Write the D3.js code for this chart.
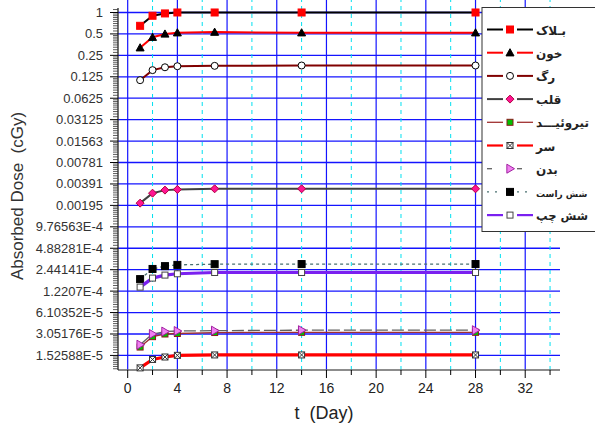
<!DOCTYPE html>
<html><head><meta charset="utf-8">
<script src="https://cdn.jsdelivr.net/npm/d3@7"></script>
<style>body{margin:0;background:#fff} svg{display:block}</style>
</head><body>
<script>
// ---- data ----
const days = [1, 2, 3, 4, 7, 14, 28];
const block     = [0.65, 0.90, 0.97, 1.0, 1.0, 1.0, 1.0];
const khun      = [0.32, 0.45, 0.50, 0.52, 0.53, 0.52, 0.52];
const rag       = [0.112, 0.155, 0.170, 0.176, 0.178, 0.18, 0.18];
const qalb      = [0.0021, 0.0029, 0.0032, 0.00327, 0.00334, 0.00334, 0.00334];
const tiroid    = [2.0e-5, 2.8e-5, 3.05e-5, 3.1e-5, 3.2e-5, 3.22e-5, 3.22e-5];
const sar       = [1.02e-5, 1.34e-5, 1.45e-5, 1.53e-5, 1.55e-5, 1.55e-5, 1.55e-5];
const badan     = [2.16e-5, 3.05e-5, 3.3e-5, 3.36e-5, 3.4e-5, 3.45e-5, 3.45e-5];
const sheshRast = [1.8e-4, 2.5e-4, 2.74e-4, 2.85e-4, 2.92e-4, 2.93e-4, 2.93e-4];
const sheshChap = [1.39e-4, 1.86e-4, 2.05e-4, 2.14e-4, 2.23e-4, 2.23e-4, 2.23e-4];
const seriesNames = ["بـلاک", "خون", "رگ", "قلب", "تیروئیـــد", "سر", "بدن", "شش راست", "شش چپ"];
const seriesValues = [block, khun, rag, qalb, tiroid, sar, badan, sheshRast, sheshChap];
const yTickExponents = d3.range(0, -17, -1);
const yTickLabels = ["1","0.5","0.25","0.125","0.0625","0.03125","0.01563","0.00781","0.00391","0.00195","9.76563E-4","4.88281E-4","2.44141E-4","1.2207E-4","6.10352E-5","3.05176E-5","1.52588E-5"];
const xMajorTicks = [0, 4, 8, 12, 16, 20, 24, 28, 32];
const xMinorTicks = [2, 6, 10, 14, 18, 22, 26, 30, 34];

// ---- styles ----
const styles = [
  {color:"#000000", w:2,   dash:null,  marker:"square",  mfill:"#ff0000", mstroke:"#ff0000", ms:7},
  {color:"#ff0000", w:2,   dash:null,  marker:"triangle",mfill:"#000000", mstroke:"#000000", ms:8},
  {color:"#800000", w:2,   dash:null,  marker:"circle",  mfill:"#ffffff", mstroke:"#000000", ms:7},
  {color:"#404040", w:2,   dash:null,  marker:"diamond", mfill:"#ff1493", mstroke:"#b00040", ms:8},
  {color:"#a03030", w:1.3, dash:null,  marker:"square",  mfill:"#00c000", mstroke:"#8b1a1a", ms:6},
  {color:"#ff0000", w:3.2, dash:null,  marker:"xsquare", mfill:"#ffffff", mstroke:"#333333", ms:6},
  {color:"#606060", w:1.3, dash:"12,4",marker:"rtri",    mfill:"#f080f0", mstroke:"#a020a0", ms:9},
  {color:"#4a7070", w:1.3, dash:"3,3", marker:"square",  mfill:"#000000", mstroke:"#000000", ms:7},
  {color:"#7a20f0", w:3.2, dash:null,  marker:"square",  mfill:"#ffffff", mstroke:"#444444", ms:6}
];

const W = 595, H = 428;
const svg = d3.select("body").append("svg").attr("width", W).attr("height", H);
const x = d3.scaleLinear().domain([-0.78, 34.8]).range([118, 560]);
const y = d3.scaleLog().base(2).domain([Math.pow(2, -16.68), Math.pow(2, 0.2)]).range([370, 8.2]);

// grid
const grid = svg.append("g");
grid.selectAll("line.hmaj").data(yTickExponents).join("line")
  .attr("x1", 118).attr("x2", 560)
  .attr("y1", d => y(Math.pow(2, d))).attr("y2", d => y(Math.pow(2, d)))
  .attr("stroke", "#1414ff").attr("stroke-width", 1.3);
grid.selectAll("line.vmin").data(xMinorTicks).join("line")
  .attr("x1", d => x(d)).attr("x2", d => x(d)).attr("y1", 370).attr("y2", 0)
  .attr("stroke", "#00e0f0").attr("stroke-width", 1).attr("stroke-dasharray", "4,4");
grid.selectAll("line.vmaj").data(xMajorTicks).join("line")
  .attr("x1", d => x(d)).attr("x2", d => x(d)).attr("y1", 370).attr("y2", 0)
  .attr("stroke", "#1414ff").attr("stroke-width", 1.2);

// x axis
const xAxis = svg.append("g").attr("transform", "translate(0,370)");
xAxis.append("line").attr("x1", 118).attr("x2", 560).attr("stroke", "#666").attr("stroke-width", 1.5);
xAxis.selectAll("line.mj").data(xMajorTicks).join("line")
  .attr("x1", d => x(d)).attr("x2", d => x(d)).attr("y1", 0).attr("y2", 8).attr("stroke", "#000");
xAxis.selectAll("line.mn").data(xMinorTicks).join("line")
  .attr("x1", d => x(d)).attr("x2", d => x(d)).attr("y1", 0).attr("y2", 5).attr("stroke", "#000");
xAxis.selectAll("text").data(xMajorTicks).join("text")
  .attr("x", d => x(d)).attr("y", 23).attr("text-anchor", "middle")
  .attr("font-family", "Liberation Sans, Arial, sans-serif").attr("font-size", 14).attr("fill", "#222")
  .text(d => d);

// y axis
const yAxis = svg.append("g");
yAxis.append("line").attr("x1", 118).attr("x2", 118).attr("y1", 8).attr("y2", 370).attr("stroke", "#222").attr("stroke-width", 1.3);
const minorVals = [];
for (let k = -17; k <= 0; k++) for (let m = 1.1; m < 1.95; m += 0.1) {
  const v = m * Math.pow(2, k);
  if (y(v) >= 9 && y(v) <= 370) minorVals.push(v);
}
yAxis.selectAll("line.mn").data(minorVals).join("line")
  .attr("x1", 113).attr("x2", 118).attr("y1", d => y(d)).attr("y2", d => y(d))
  .attr("stroke", "#333").attr("stroke-width", 0.8);
yAxis.selectAll("line.mj").data(yTickExponents).join("line")
  .attr("x1", 110).attr("x2", 118).attr("y1", d => y(Math.pow(2, d))).attr("y2", d => y(Math.pow(2, d)))
  .attr("stroke", "#000").attr("stroke-width", 1);
yAxis.selectAll("text").data(yTickExponents).join("text")
  .attr("x", 103).attr("y", d => y(Math.pow(2, d)) + 4.5).attr("text-anchor", "end")
  .attr("font-family", "Liberation Sans, Arial, sans-serif").attr("font-size", 13).attr("fill", "#333")
  .text((d, i) => yTickLabels[i]);

// titles
svg.append("text").attr("transform", "translate(23,196) rotate(-90)").attr("text-anchor", "middle")
  .attr("font-family", "Liberation Sans, Arial, sans-serif").attr("font-size", 17).attr("fill", "#333")
  .attr("xml:space", "preserve").text("Absorbed Dose  (cGy)");
svg.append("text").attr("x", 324).attr("y", 419).attr("text-anchor", "middle")
  .attr("font-family", "Liberation Sans, Arial, sans-serif").attr("font-size", 18).attr("fill", "#222")
  .attr("xml:space", "preserve").text("t  (Day)");

// markers
function drawMarker(g, s, cx, cy) {
  const h = s.ms / 2;
  if (s.marker === "square" || s.marker === "xsquare") {
    g.append("rect").attr("x", cx - h).attr("y", cy - h).attr("width", s.ms).attr("height", s.ms)
      .attr("fill", s.mfill).attr("stroke", s.mstroke).attr("stroke-width", 1);
    if (s.marker === "xsquare") {
      g.append("path").attr("d", `M${cx-h},${cy-h}L${cx+h},${cy+h}M${cx+h},${cy-h}L${cx-h},${cy+h}`)
        .attr("stroke", s.mstroke).attr("stroke-width", 1);
    }
  } else if (s.marker === "triangle") {
    g.append("path").attr("d", `M${cx},${cy-h}L${cx+h},${cy+h*0.8}L${cx-h},${cy+h*0.8}Z`)
      .attr("fill", s.mfill).attr("stroke", s.mstroke);
  } else if (s.marker === "circle") {
    g.append("circle").attr("cx", cx).attr("cy", cy).attr("r", h)
      .attr("fill", s.mfill).attr("stroke", s.mstroke).attr("stroke-width", 1);
  } else if (s.marker === "diamond") {
    g.append("path").attr("d", `M${cx},${cy-h}L${cx+h},${cy}L${cx},${cy+h}L${cx-h},${cy}Z`)
      .attr("fill", s.mfill).attr("stroke", s.mstroke);
  } else if (s.marker === "rtri") {
    g.append("path").attr("d", `M${cx-h*0.7},${cy-h}L${cx+h},${cy}L${cx-h*0.7},${cy+h}Z`)
      .attr("fill", s.mfill).attr("stroke", s.mstroke);
  }
}

// series
const line = d3.line().x(d => x(d[0])).y(d => y(d[1]));
seriesValues.forEach((vals, i) => {
  const s = styles[i];
  const pts = days.map((d, j) => [d, vals[j]]);
  const g = svg.append("g");
  g.append("path").attr("d", line(pts)).attr("fill", "none")
    .attr("stroke", s.color).attr("stroke-width", s.w).attr("stroke-dasharray", s.dash);
  pts.forEach(p => drawMarker(g, s, x(p[0]), y(p[1])));
});

// legend
const lg = svg.append("g");
lg.append("rect").attr("x", 482).attr("y", 7.5).attr("width", 130).attr("height", 224)
  .attr("fill", "#fff").attr("stroke", "#333").attr("stroke-width", 1);
seriesNames.forEach((name, i) => {
  const s = styles[i];
  const cy = 29.5 + i * 23.2;
  const g = lg.append("g");
  const ld = s.dash ? (s.dash === "3,3" ? "2,6" : "5,12") : null;
  g.append("line").attr("x1", 487).attr("x2", 503).attr("y1", cy).attr("y2", cy)
    .attr("stroke", s.color).attr("stroke-width", Math.min(s.w, 2.2)).attr("stroke-dasharray", ld);
  g.append("line").attr("x1", 517).attr("x2", 533).attr("y1", cy).attr("y2", cy)
    .attr("stroke", s.color).attr("stroke-width", Math.min(s.w, 2.2)).attr("stroke-dasharray", ld);
  drawMarker(g, s, 510, cy);
  const t = g.append("text").attr("x", 536).attr("y", cy + 5).attr("text-anchor", "start")
    .attr("font-family", "DejaVu Sans, sans-serif").attr("font-weight", "bold").attr("font-size", 12)
    .attr("fill", "#222").text(name);
  let fs = 12;
  while (t.node().getComputedTextLength() > 54 && fs > 8) { fs -= 0.5; t.attr("font-size", fs); }
});
</script>
</body></html>
